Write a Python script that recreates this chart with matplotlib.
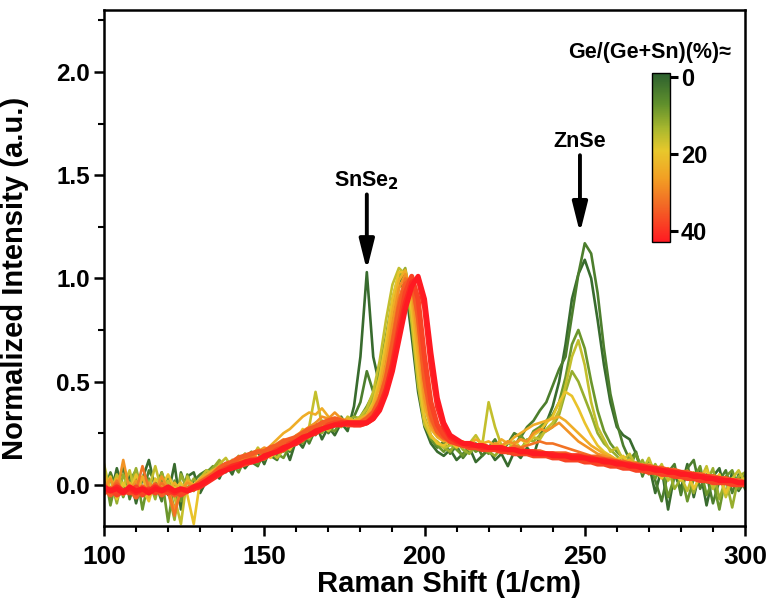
import numpy as np
import matplotlib
matplotlib.use("Agg")
import matplotlib.pyplot as plt
from matplotlib.colors import LinearSegmentedColormap, Normalize
from matplotlib.ticker import MultipleLocator

plt.rcParams['font.family'] = ['Liberation Sans', 'DejaVu Sans']
plt.rcParams['font.weight'] = 'bold'

# Raman shift grid (1/cm), 100..300 step 2
raman_shift = np.arange(100, 301, 2)

# Ge/(Ge+Sn) composition (%) of each spectrum
compositions = [1, 4, 8, 12, 16, 20, 24, 28, 32, 35, 38, 41, 43]

spec_01 = [0.02, -0.06, 0.08, -0.03, 0.05, -0.09, 0.03, 0.12, -0.02, 0.06,
           -0.05, 0.10, -0.12, 0.04, 0.06, -0.04, 0.02, 0.08, 0.03, 0.10,
           0.05, 0.13, 0.08, 0.12, 0.16, 0.10, 0.18, 0.13, 0.20, 0.12,
           0.22, 0.18, 0.25, 0.30, 0.22, 0.28, 0.24, 0.30, 0.26, 0.38,
           0.62, 1.03, 0.62, 0.48, 0.56, 0.78, 0.96, 0.97, 0.72, 0.45,
           0.28, 0.20, 0.16, 0.14, 0.17, 0.12, 0.15, 0.18, 0.11, 0.14,
           0.17, 0.12, 0.15, 0.09, 0.16, 0.13, 0.18, 0.14, 0.24, 0.30,
           0.38, 0.50, 0.68, 0.90, 1.02, 1.09, 1.00, 0.80, 0.58, 0.40,
           0.28, 0.24, 0.22, 0.15, 0.05, 0.10, -0.04, 0.08, -0.12, 0.05,
           -0.02, 0.10, -0.06, 0.07, -0.10, 0.04, 0.08, -0.05, 0.06, -0.03,
           0.02]
spec_04 = [-0.04, 0.06, -0.02, 0.09, -0.07, 0.03, -0.05, 0.07, 0.01, -0.08,
           0.04, -0.14, 0.06, -0.03, 0.02, 0.05, 0.07, 0.04, 0.11, 0.06,
           0.12, 0.08, 0.15, 0.11, 0.09, 0.17, 0.14, 0.12, 0.19, 0.16,
           0.21, 0.26, 0.20, 0.27, 0.31, 0.25, 0.29, 0.33, 0.28, 0.33,
           0.40, 0.55, 0.45, 0.50, 0.62, 0.82, 0.98, 1.02, 0.80, 0.50,
           0.30, 0.22, 0.18, 0.21, 0.15, 0.19, 0.13, 0.17, 0.20, 0.14,
           0.18, 0.22, 0.16, 0.20, 0.25, 0.23, 0.28, 0.31, 0.36, 0.40,
           0.48, 0.56, 0.62, 0.82, 1.02, 1.17, 1.12, 0.93, 0.66, 0.44,
           0.30, 0.19, 0.12, 0.16, 0.04, 0.12, 0.02, -0.08, 0.06, 0.10,
           -0.05, 0.08, 0.12, -0.02, 0.05, -0.09, 0.02, 0.07, -0.04, 0.05,
           -0.02]
spec_08 = [0.08, -0.10, 0.04, -0.06, 0.02, 0.07, -0.12, 0.03, -0.05, 0.04,
           -0.18, 0.02, -0.08, 0.05, -0.03, 0.01, 0.06, 0.09, 0.05, 0.07,
           0.10, 0.06, 0.13, 0.16, 0.10, 0.14, 0.18, 0.15, 0.13, 0.19,
           0.23, 0.20, 0.26, 0.24, 0.30, 0.27, 0.26, 0.31, 0.29, 0.30,
           0.33, 0.38, 0.44, 0.56, 0.72, 0.90, 1.02, 1.04, 0.84, 0.52,
           0.31, 0.22, 0.19, 0.16, 0.20, 0.17, 0.14, 0.19, 0.16, 0.18,
           0.15, 0.19, 0.16, 0.21, 0.18, 0.24, 0.20, 0.26, 0.28, 0.31,
           0.34, 0.40, 0.52, 0.68, 0.75, 0.66, 0.50, 0.36, 0.26, 0.20,
           0.16, 0.13, 0.09, 0.15, 0.07, 0.11, 0.03, 0.09, -0.06, 0.04,
           0.06, -0.08, 0.03, 0.09, -0.05, 0.02, -0.12, 0.04, 0.07, -0.02,
           0.05]
spec_12 = [-0.05, 0.03, -0.09, 0.05, -0.02, 0.08, -0.04, 0.02, -0.07, 0.06,
           -0.03, -0.17, 0.05, -0.02, 0.03, -0.01, 0.05, 0.08, 0.12, 0.07,
           0.09, 0.14, 0.10, 0.13, 0.17, 0.12, 0.15, 0.19, 0.16, 0.18,
           0.20, 0.24, 0.22, 0.27, 0.25, 0.30, 0.32, 0.28, 0.31, 0.33,
           0.32, 0.36, 0.42, 0.52, 0.68, 0.88, 1.00, 1.05, 0.88, 0.55,
           0.33, 0.24, 0.20, 0.18, 0.16, 0.21, 0.17, 0.15, 0.19, 0.17,
           0.16, 0.14, 0.18, 0.15, 0.20, 0.17, 0.22, 0.21, 0.24, 0.26,
           0.28, 0.34, 0.45, 0.55, 0.50, 0.42, 0.34, 0.25, 0.20, 0.17,
           0.14, 0.10, 0.13, 0.08, 0.12, 0.05, 0.10, 0.04, 0.08, -0.02,
           0.03, 0.07, -0.04, 0.05, 0.01, 0.08, -0.07, 0.03, -0.11, 0.04,
           0.06]
spec_16 = [0.10, -0.04, 0.05, -0.01, 0.07, -0.06, 0.04, -0.02, 0.09, -0.03,
           0.02, -0.06, -0.19, 0.04, -0.03, 0.03, 0.07, 0.05, 0.10, 0.13,
           0.08, 0.11, 0.15, 0.12, 0.18, 0.14, 0.16, 0.13, 0.17, 0.21,
           0.24, 0.21, 0.28, 0.45, 0.29, 0.26, 0.30, 0.28, 0.33, 0.31,
           0.33, 0.37, 0.45, 0.60, 0.80, 0.97, 1.05, 1.02, 0.78, 0.48,
           0.29, 0.23, 0.21, 0.18, 0.19, 0.22, 0.18, 0.20, 0.24, 0.19,
           0.40, 0.28, 0.19, 0.17, 0.21, 0.18, 0.20, 0.23, 0.22, 0.27,
           0.30, 0.36, 0.48, 0.62, 0.70, 0.58, 0.40, 0.28, 0.22, 0.16,
           0.18, 0.12, 0.15, 0.09, 0.07, 0.13, 0.05, 0.10, 0.02, 0.07,
           0.04, -0.03, 0.06, 0.02, 0.09, -0.02, 0.05, -0.06, 0.03, 0.07,
           0.01]
spec_20 = [-0.03, 0.04, -0.07, 0.01, -0.04, 0.05, -0.02, -0.08, 0.03, -0.01,
           0.05, -0.02, 0.01, -0.05, -0.19, 0.02, 0.04, 0.07, 0.05, 0.09,
           0.12, 0.09, 0.14, 0.11, 0.16, 0.15, 0.13, 0.18, 0.20, 0.17,
           0.22, 0.27, 0.23, 0.29, 0.27, 0.32, 0.29, 0.31, 0.30, 0.31,
           0.31, 0.34, 0.40, 0.52, 0.70, 0.90, 1.03, 1.03, 0.84, 0.54,
           0.32, 0.24, 0.20, 0.19, 0.21, 0.18, 0.20, 0.17, 0.19, 0.21,
           0.18, 0.20, 0.17, 0.21, 0.19, 0.22, 0.20, 0.24, 0.26, 0.30,
           0.33, 0.40, 0.45, 0.43, 0.37, 0.30, 0.24, 0.19, 0.16, 0.14,
           0.12, 0.14, 0.09, 0.11, 0.06, 0.10, 0.07, 0.03, 0.08, 0.05,
           0.02, 0.06, -0.02, 0.04, 0.07, 0.01, 0.05, -0.04, 0.03, 0.02,
           0.03]
spec_24 = [0.05, -0.02, 0.03, -0.05, 0.01, -0.03, 0.04, -0.06, 0.00, -0.02,
           -0.04, 0.01, -0.03, 0.02, 0.00, 0.03, 0.05, 0.07, 0.09, 0.08,
           0.11, 0.13, 0.12, 0.15, 0.17, 0.16, 0.19, 0.22, 0.25, 0.27,
           0.30, 0.33, 0.35, 0.34, 0.37, 0.33, 0.31, 0.30, 0.32, 0.31,
           0.32, 0.34, 0.38, 0.48, 0.64, 0.84, 0.99, 1.04, 0.90, 0.62,
           0.38, 0.27, 0.23, 0.21, 0.22, 0.20, 0.21, 0.19, 0.22, 0.20,
           0.21, 0.19, 0.22, 0.20, 0.23, 0.25, 0.27, 0.29, 0.30, 0.31,
           0.32, 0.33, 0.31, 0.28, 0.25, 0.22, 0.19, 0.17, 0.15, 0.14,
           0.12, 0.11, 0.12, 0.09, 0.10, 0.07, 0.09, 0.06, 0.07, 0.05,
           0.06, 0.03, 0.05, 0.02, 0.04, 0.01, 0.03, 0.02, 0.00, 0.02,
           0.01]
spec_28 = [-0.02, 0.03, -0.04, 0.12, -0.03, 0.02, -0.05, 0.01, -0.03, 0.04,
           -0.02, -0.12, -0.03, 0.01, -0.01, 0.02, 0.04, 0.06, 0.08, 0.10,
           0.11, 0.12, 0.14, 0.13, 0.16, 0.18, 0.17, 0.20, 0.22, 0.21,
           0.24, 0.26, 0.28, 0.30, 0.33, 0.32, 0.35, 0.32, 0.31, 0.30,
           0.31, 0.33, 0.36, 0.44, 0.58, 0.78, 0.95, 1.02, 0.95, 0.70,
           0.42, 0.29, 0.24, 0.22, 0.20, 0.21, 0.19, 0.20, 0.18, 0.19,
           0.18, 0.20, 0.19, 0.21, 0.20, 0.22, 0.21, 0.25, 0.27, 0.26,
           0.28, 0.30, 0.27, 0.24, 0.21, 0.19, 0.17, 0.15, 0.14, 0.13,
           0.12, 0.10, 0.11, 0.09, 0.08, 0.09, 0.07, 0.05, 0.06, 0.04,
           0.05, 0.03, 0.04, 0.02, 0.03, 0.01, 0.02, 0.01, 0.02, 0.00,
           0.01]
spec_32 = [0.01, -0.03, 0.02, -0.04, -0.01, -0.03, 0.09, -0.02, -0.04, 0.01,
           -0.03, -0.15, -0.02, -0.04, -0.01, 0.01, 0.03, 0.05, 0.07, 0.08,
           0.10, 0.11, 0.12, 0.14, 0.13, 0.15, 0.17, 0.18, 0.20, 0.22,
           0.23, 0.25, 0.27, 0.28, 0.30, 0.31, 0.32, 0.31, 0.30, 0.30,
           0.30, 0.32, 0.35, 0.42, 0.54, 0.72, 0.90, 1.00, 0.98, 0.78,
           0.48, 0.31, 0.25, 0.22, 0.21, 0.20, 0.19, 0.19, 0.18, 0.18,
           0.18, 0.17, 0.18, 0.17, 0.19, 0.18, 0.19, 0.20, 0.21, 0.20,
           0.20, 0.19, 0.18, 0.17, 0.16, 0.15, 0.14, 0.14, 0.13, 0.12,
           0.11, 0.10, 0.10, 0.09, 0.08, 0.08, 0.07, 0.06, 0.06, 0.05,
           0.05, 0.04, 0.03, 0.03, 0.02, 0.02, 0.01, 0.01, 0.01, 0.00,
           0.00]
spec_35 = [-0.01, -0.05, 0.00, -0.04, -0.02, -0.06, -0.01, -0.04, 0.00, -0.05,
           -0.02, -0.05, -0.03, -0.02, -0.01, 0.01, 0.03, 0.05, 0.08, 0.10,
           0.11, 0.13, 0.14, 0.15, 0.16, 0.16, 0.18, 0.19, 0.21, 0.22,
           0.23, 0.25, 0.27, 0.28, 0.30, 0.31, 0.32, 0.31, 0.30, 0.30,
           0.30, 0.32, 0.35, 0.41, 0.51, 0.67, 0.85, 0.97, 1.00, 0.82,
           0.52, 0.34, 0.26, 0.23, 0.22, 0.21, 0.20, 0.20, 0.19, 0.19,
           0.18, 0.18, 0.18, 0.17, 0.17, 0.17, 0.16, 0.16, 0.16, 0.15,
           0.15, 0.15, 0.15, 0.14, 0.14, 0.14, 0.13, 0.13, 0.12, 0.12,
           0.11, 0.11, 0.10, 0.10, 0.09, 0.09, 0.08, 0.08, 0.07, 0.07,
           0.06, 0.06, 0.05, 0.05, 0.04, 0.04, 0.03, 0.03, 0.02, 0.02,
           0.01]
spec_38 = [-0.04, -0.02, -0.05, -0.03, -0.04, -0.01, -0.05, -0.02, -0.04, -0.02,
           -0.04, -0.03, -0.05, -0.03, -0.02, 0.00, 0.02, 0.04, 0.06, 0.08,
           0.09, 0.09, 0.10, 0.11, 0.12, 0.14, 0.15, 0.17, 0.18, 0.20,
           0.21, 0.23, 0.24, 0.26, 0.27, 0.29, 0.30, 0.30, 0.29, 0.29,
           0.29, 0.30, 0.32, 0.37, 0.46, 0.59, 0.77, 0.93, 1.01, 0.90,
           0.62, 0.40, 0.29, 0.24, 0.21, 0.20, 0.19, 0.18, 0.18, 0.17,
           0.17, 0.17, 0.16, 0.16, 0.15, 0.15, 0.15, 0.14, 0.14, 0.14,
           0.13, 0.13, 0.12, 0.12, 0.12, 0.11, 0.11, 0.10, 0.10, 0.09,
           0.09, 0.08, 0.08, 0.07, 0.07, 0.06, 0.06, 0.05, 0.05, 0.04,
           0.04, 0.03, 0.03, 0.02, 0.02, 0.01, 0.01, 0.01, 0.00, 0.00,
           0.00]
spec_41 = [-0.02, -0.03, -0.01, -0.03, -0.02, -0.04, -0.02, -0.03, -0.01, -0.03,
           -0.02, -0.04, -0.02, -0.03, -0.02, -0.01, 0.01, 0.03, 0.05, 0.07,
           0.09, 0.10, 0.11, 0.12, 0.12, 0.13, 0.15, 0.16, 0.17, 0.19,
           0.20, 0.22, 0.24, 0.25, 0.27, 0.28, 0.29, 0.30, 0.30, 0.29,
           0.29, 0.30, 0.33, 0.38, 0.46, 0.58, 0.74, 0.88, 0.98, 1.00,
           0.86, 0.58, 0.38, 0.28, 0.23, 0.21, 0.20, 0.19, 0.19, 0.18,
           0.18, 0.18, 0.17, 0.17, 0.17, 0.16, 0.16, 0.16, 0.15, 0.15,
           0.15, 0.14, 0.14, 0.14, 0.14, 0.13, 0.13, 0.12, 0.12, 0.11,
           0.11, 0.10, 0.10, 0.09, 0.09, 0.08, 0.08, 0.07, 0.07, 0.06,
           0.06, 0.05, 0.05, 0.04, 0.04, 0.03, 0.03, 0.02, 0.02, 0.01,
           0.01]
spec_43 = [-0.01, -0.03, -0.02, -0.04, -0.01, -0.03, -0.02, -0.04, -0.02, -0.03,
           -0.01, -0.03, -0.02, -0.03, -0.01, 0.00, 0.02, 0.04, 0.06, 0.07,
           0.08, 0.09, 0.11, 0.11, 0.12, 0.14, 0.15, 0.16, 0.18, 0.19,
           0.21, 0.23, 0.24, 0.26, 0.27, 0.28, 0.29, 0.29, 0.30, 0.30,
           0.30, 0.30, 0.32, 0.36, 0.44, 0.55, 0.70, 0.85, 0.96, 1.01,
           0.90, 0.64, 0.42, 0.30, 0.24, 0.22, 0.20, 0.20, 0.19, 0.19,
           0.18, 0.18, 0.18, 0.17, 0.17, 0.16, 0.16, 0.15, 0.15, 0.15,
           0.14, 0.14, 0.14, 0.13, 0.13, 0.13, 0.12, 0.12, 0.11, 0.11,
           0.10, 0.10, 0.09, 0.09, 0.08, 0.08, 0.07, 0.07, 0.06, 0.06,
           0.05, 0.05, 0.04, 0.04, 0.03, 0.03, 0.02, 0.02, 0.02, 0.01,
           0.01]

spectra = [spec_01, spec_04, spec_08, spec_12, spec_16, spec_20, spec_24,
           spec_28, spec_32, spec_35, spec_38, spec_41, spec_43]

peak_labels = ["SnSe$_2$", "ZnSe"]
peak_positions = [182, 248.5]

cmap = LinearSegmentedColormap.from_list(
    "ge_sn",
    [(0.0, "#2c602f"), (0.18, "#5f8f2c"), (0.33, "#a9b82e"), (0.46, "#e8c82c"),
     (0.62, "#f2a024"), (0.78, "#f26a25"), (1.0, "#ff1a22")])
norm = Normalize(vmin=-1, vmax=43)

fig = plt.figure(figsize=(7.71, 6.04), dpi=100)
ax = fig.add_axes([0.1349, 0.1291, 0.8314, 0.8543])

for comp, spec in zip(compositions, spectra):
    lw = 3.6 if comp >= 35 else 1.9
    ax.plot(raman_shift, spec, color=cmap(norm(comp)), lw=lw, solid_joinstyle='round')

ax.set_xlim(100, 300)
ax.set_ylim(-0.2, 2.3)
ax.xaxis.set_major_locator(MultipleLocator(50))
ax.xaxis.set_minor_locator(MultipleLocator(10))
ax.yaxis.set_major_locator(MultipleLocator(0.5))
ax.yaxis.set_minor_locator(MultipleLocator(0.25))
ax.tick_params(axis='both', which='major', direction='out', length=7, width=1.8)
ax.tick_params(axis='both', which='minor', direction='out', length=4, width=1.5)
ax.tick_params(axis='x', labelsize=19, pad=7)
ax.tick_params(axis='y', labelsize=17.5, pad=3)
for lab in ax.get_xticklabels() + ax.get_yticklabels():
    lab.set_fontweight('bold')
for sp in ax.spines.values():
    sp.set_linewidth(1.8)

ax.set_xlabel("Raman Shift (1/cm)", fontsize=21, fontweight='bold')
ax.xaxis.set_label_coords(0.538, -0.085)
ax.set_ylabel("Normalized Intensity (a.u.)", fontsize=21, fontweight='bold')
ax.yaxis.set_label_coords(-0.117, 0.48)

arrow_props = dict(arrowstyle='-|>,head_length=1.8,head_width=0.45', lw=2.8,
                   color='black', mutation_scale=10, shrinkA=0, shrinkB=0)
ax.annotate(peak_labels[0], xy=(peak_positions[0], 1.04), xytext=(peak_positions[0], 1.42),
            ha='center', va='bottom', fontsize=15.5, fontweight='bold', arrowprops=arrow_props)
ax.annotate(peak_labels[1], xy=(peak_positions[1], 1.22), xytext=(peak_positions[1], 1.61),
            ha='center', va='bottom', fontsize=15.5, fontweight='bold', arrowprops=arrow_props)

cax = fig.add_axes([0.8457, 0.5993, 0.0233, 0.2798])
sm = matplotlib.cm.ScalarMappable(cmap=cmap, norm=norm)
cb = fig.colorbar(sm, cax=cax, ticks=[0, 20, 40])
cb.ax.invert_yaxis()
cb.outline.set_linewidth(1.0)
cb.ax.tick_params(length=6, width=2.2, labelsize=17, direction='out', pad=2)
for lab in cb.ax.get_yticklabels():
    lab.set_fontweight('bold')
fig.text(0.842, 0.913, "Ge/(Ge+Sn)(%)≈", ha='center', va='center', fontsize=15.5, fontweight='bold')

fig.savefig("out.png", dpi=100)
